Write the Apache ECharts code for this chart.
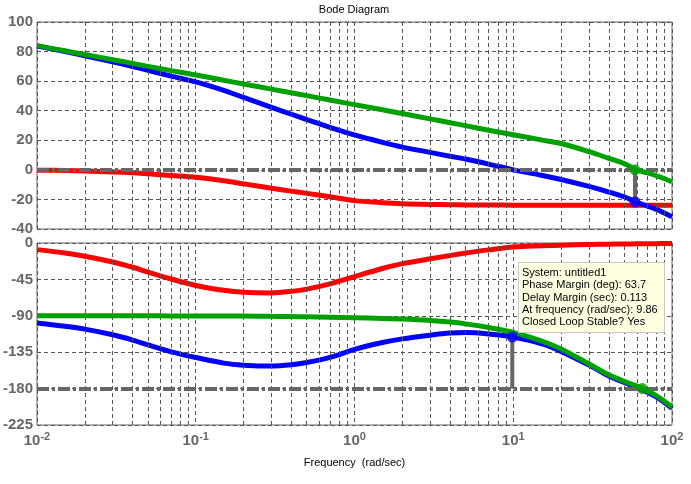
<!DOCTYPE html>
<html><head><meta charset="utf-8">
<script src="https://cdn.jsdelivr.net/npm/echarts@6/dist/echarts.min.js"></script>
<style>html,body{margin:0;padding:0;background:#fff}#c{width:691px;height:484px}</style>
</head><body><div id="c"></div>
<script>
// ---- data ----
const freq = [0.01,0.015,0.02,0.03,0.04,0.05,0.07,0.1,0.15,0.2,0.3,0.4,0.5,0.7,1,1.5,2,3,4,5,7,10,15,20,30,40,50,60,70,80,90,100];
const magGreen = [84.0,80.5,78.0,74.5,72.0,70.0,67.1,64.2,60.6,58.1,54.6,52.1,50.2,47.2,44.1,40.6,38.1,34.5,31.9,29.9,26.8,23.8,20.3,17.8,12.3,7.8,4.2,0.0,-2.1,-4.0,-6.0,-8.0];
const magBlue = [83.8,80.0,77.2,73.0,69.9,67.3,63.4,59.5,53.8,49.0,42.3,37.6,34.0,28.8,23.6,18.6,15.4,11.8,9.2,7.3,3.9,0.0,-3.6,-6.5,-11.2,-15.0,-18.3,-21.9,-24.5,-26.8,-29.4,-31.8];
const magRed = [-0.2,-0.4,-0.7,-1.4,-2.0,-2.7,-3.8,-5.0,-7.4,-9.5,-12.4,-14.4,-15.9,-18.2,-20.8,-22.2,-22.9,-23.4,-23.6,-23.7,-23.8,-23.9,-24,-24,-24,-24,-24,-24,-24,-24,-24,-24];
const phaseRed = [-8.2,-12.3,-16.3,-23.5,-30,-36,-44.5,-52.5,-58.5,-61,-61.8,-59.8,-57,-50.5,-41.5,-31.5,-25.5,-19.5,-15.5,-12.3,-8.5,-5.0,-3.5,-2.7,-1.9,-1.4,-1.2,-1.0,-0.9,-0.8,-0.7,-0.6];
const phaseGreen = [-90,-90,-90,-90,-90,-90,-90.1,-90.2,-90.3,-90.4,-90.7,-90.9,-91.2,-91.7,-92.3,-93.2,-94,-95.8,-97.8,-100,-104.5,-110.5,-121,-131,-149.5,-163,-171,-177,-183,-189,-196,-203];
const phaseBlue = [-99,-103,-106.5,-113.5,-120,-126,-134.5,-141.5,-148.5,-151,-152.2,-150.5,-147.8,-141.5,-131.5,-123,-118.5,-114,-111.4,-110.7,-112.5,-116.3,-124.5,-134,-151,-164.5,-172.5,-178.5,-184.5,-190.5,-197.5,-204.5];
// margin markers
const gmFreq = 58.5, gmMagBlue = -21.8, gmMagGreen = 0;
const pmFreq = 9.86, pmPhaseBlue = -116.3;
const pcFreq = 65, pcPhase = -180;
const magTicks = {min:-40, max:100, interval:20};
const phaseTicks = {min:-225, max:0, interval:45};
const tipLines = ['System: untitled1','Phase Margin (deg): 63.7','Delay Margin (sec): 0.113','At frequency (rad/sec): 9.86','Closed Loop Stable? Yes'];

const chart = echarts.init(document.getElementById('c'));
const pairs = ys => freq.map((f,i)=>[f, ys[i]]);
const minorFreqs = [];
[0.01,0.1,1,10].forEach(d=>{ for(let k=2;k<=9;k++) minorFreqs.push(+(d*k).toPrecision(3)); });
const gridDash = {color:'#555', width:1, type:[4,3]};
const dashDot = {color:'#666', width:4, type:[12,3,3,3]};
const labelFont = 'Liberation Sans';

function xAx(gi, showLabel){
  return {type:'log', logBase:10, min:0.01, max:100, gridIndex:gi,
    axisLine:{show:false}, axisTick:{show:false},
    splitLine:{show:true, lineStyle:gridDash},
    axisLabel:{show:showLabel, margin:6, formatter: v => '{b|10}{s|' + Math.round(Math.log10(v)) + '}',
      rich:{b:{fontSize:15, fontWeight:'bold', color:'#666', fontFamily:labelFont},
            s:{fontSize:11, fontWeight:'bold', color:'#666', fontFamily:labelFont, padding:[0,0,9,0]}}},
    name: showLabel ? 'Frequency  (rad/sec)' : '', nameLocation:'middle', nameGap:32,
    nameTextStyle:{fontSize:11, color:'#000', fontFamily:labelFont}
  };
}
function yAx(gi, t, name){
  return {type:'value', gridIndex:gi, min:t.min, max:t.max, interval:t.interval,
    axisLine:{show:false}, axisTick:{show:false},
    splitLine:{show:true, lineStyle:gridDash},
    axisLabel:{fontSize:15, fontWeight:'bold', color:'#666', margin:4, fontFamily:labelFont},
    name:name, nameLocation:'middle', nameGap:33, nameTextStyle:{fontSize:12, color:'#000', fontFamily:labelFont}
  };
}
function helper(gi, yLine, z){
  return {type:'line', xAxisIndex:gi, yAxisIndex:gi, data:[], z:z, silent:true,
    markLine:{silent:true, symbol:'none', animation:false, label:{show:false},
      data: yLine === null ? minorFreqs.map(f=>({xAxis:f, lineStyle:gridDash})) : [{yAxis:yLine, lineStyle:dashDot}]}};
}
function curve(gi, ys, color, z){
  return {type:'line', xAxisIndex:gi, yAxisIndex:gi, data:pairs(ys), showSymbol:false, symbol:'none',
    smooth:0.3, z:z, lineStyle:{color:color, width:5}, itemStyle:{color:color}};
}
function stem(gi, x, y0, y1){
  return {type:'line', xAxisIndex:gi, yAxisIndex:gi, data:[[x,y0],[x,y1]], symbol:'none', z:6,
    lineStyle:{color:'#666', width:4}};
}
function dot(gi, x, y, color){
  return {type:'scatter', xAxisIndex:gi, yAxisIndex:gi, data:[[x,y]], symbolSize:11, z:7, itemStyle:{color:color}};
}
const BLUE='#0000ff', GREEN='#00a000', RED='#ff0000';
chart.setOption({
  animation:false,
  grid:[{left:37, right:19, top:22, height:207, show:true, borderColor:'#666', borderWidth:1, backgroundColor:'transparent', containLabel:false, outerBoundsMode:'none'},
        {left:37, right:19, top:243, height:182, show:true, borderColor:'#666', borderWidth:1, backgroundColor:'transparent', containLabel:false, outerBoundsMode:'none'}],
  xAxis:[xAx(0,false), xAx(1,true)],
  yAxis:[yAx(0, magTicks, 'Magnitude (dB)'), yAx(1, phaseTicks, '')],
  series:[
    helper(0,null,1), helper(1,null,1),
    curve(0, magRed, RED, 2), curve(1, phaseRed, RED, 2),
    helper(0,0,3), helper(1,-180,3),
    curve(0, magBlue, BLUE, 4), curve(1, phaseBlue, BLUE, 4),
    curve(0, magGreen, GREEN, 5), curve(1, phaseGreen, GREEN, 5),
    stem(0, gmFreq, gmMagGreen, gmMagBlue), stem(1, pmFreq, pcPhase, pmPhaseBlue),
    dot(0, gmFreq, gmMagGreen, GREEN), dot(0, gmFreq, gmMagBlue, BLUE),
    dot(1, pmFreq, pmPhaseBlue, BLUE), dot(1, pcFreq, pcPhase, GREEN)
  ],
  graphic:[
    {type:'text', x:354, y:10, style:{text:'Bode Diagram', font:'11px Liberation Sans', fill:'#000', textAlign:'center', textVerticalAlign:'middle'}},
    {type:'rect', x:518, y:262, z:100, zlevel:0, shape:{x:0.5,y:0.5,width:146,height:70}, style:{fill:'#ffffe1', stroke:'#c8c8c8', lineWidth:1}},
    {type:'text', x:522, y:267, z:101, style:{text:tipLines.join('\n'), font:'11px Liberation Sans', lineHeight:12.3, fill:'#000'}}
  ]
});
</script></body></html>
